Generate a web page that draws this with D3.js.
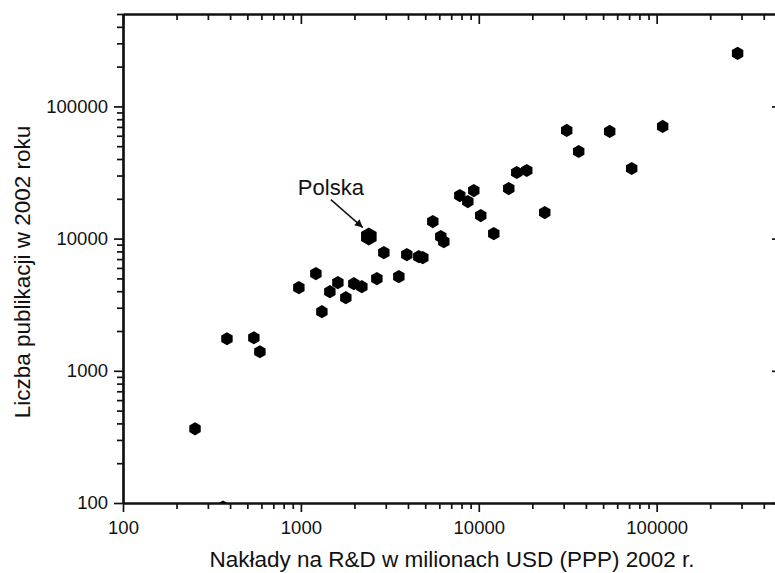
<!DOCTYPE html>
<html><head><meta charset="utf-8">
<script src="https://cdn.jsdelivr.net/npm/d3@7"></script>
<style>
html,body{margin:0;padding:0;background:#fff;}
svg{display:block;font-family:"Liberation Sans",Arial,Helvetica,sans-serif;}
</style>
</head><body>
<svg id="chart" width="775" height="573"></svg>
<script>
// R&D spending (million USD PPP, 2002) and publications in 2002
const spending = [254, 384, 544, 588, 974, 1214, 1312, 1455, 1614, 1789, 1985, 2201, 2410, 2673, 2926, 3553, 3940, 4602, 4845, 5515, 6116, 6359, 7823, 8675, 9374, 10261, 12144, 14743, 16352, 18610, 23488, 31220, 36450, 54450, 72380, 108070, 285100, 365];
const publications = [364, 1747, 1778, 1393, 4255, 5430, 2799, 3967, 4642, 3573, 4560, 4328, 10353, 4977, 7834, 5155, 7565, 7305, 7180, 13455, 10353, 9491, 21174, 19070, 23101, 14939, 10911, 23921, 31623, 32735, 15740, 65790, 45600, 64660, 33910, 70550, 252000, 93];
const highlighted = [false,false,false,false,false,false,false,false,false,false,false,false,true,false,false,false,false,false,false,false,false,false,false,false,false,false,false,false,false,false,false,false,false,false,false,false,false,false];
const highlightLabel = "Polska";
const xTickValues = [100, 1000, 10000, 100000];
const yTickValues = [100, 1000, 10000, 100000];
const xTitle = "Nakłady na R&D w milionach USD (PPP) 2002 r.";
const yTitle = "Liczba publikacji w 2002 roku";

const svg = d3.select("#chart");
const L = 123, R = 781, T = 14, B = 503;
const x = d3.scaleLog().domain([100, 500000]).range([L, R]);
const y = d3.scaleLog().domain([100, 500000]).range([B, T]);
const ink = "#111";

function minorTicks(dom) {
  const out = [];
  for (let d = 100; d <= dom[1]; d *= 10) {
    for (let k = 2; k <= 9; k++) { const v = d * k; if (v <= dom[1]) out.push(v); }
  }
  return out;
}
const xMinor = minorTicks(x.domain());
const yMinor = minorTicks(y.domain());
const fmt = d => String(d);

svg.append("defs").append("clipPath").attr("id","plotclip")
  .append("rect").attr("x", L).attr("y", T).attr("width", R - L).attr("height", B - T);

function styleAxis(g) {
  g.selectAll("path.domain").attr("stroke", ink).attr("stroke-width", 2.2);
  g.selectAll(".tick line").attr("stroke", ink).attr("stroke-width", 1.7);
  g.selectAll(".tick text").attr("fill", ink).attr("font-size", 18.5)
    .attr("font-family", "'Liberation Sans',Arial,sans-serif");
}
// bottom
svg.append("g").attr("transform", `translate(0,${B})`)
  .call(d3.axisBottom(x).tickValues(xTickValues).tickFormat(fmt).tickSize(9).tickSizeOuter(0).tickPadding(9)).call(styleAxis);
svg.append("g").attr("transform", `translate(0,${B})`)
  .call(d3.axisBottom(x).tickValues(xMinor).tickFormat("").tickSize(6).tickSizeOuter(0)).call(styleAxis);
// top (inward)
svg.append("g").attr("transform", `translate(0,${T})`)
  .call(d3.axisBottom(x).tickValues(xTickValues).tickFormat("").tickSize(10).tickSizeOuter(0)).call(styleAxis);
svg.append("g").attr("transform", `translate(0,${T})`)
  .call(d3.axisBottom(x).tickValues(xMinor).tickFormat("").tickSize(6).tickSizeOuter(0)).call(styleAxis);
// left
svg.append("g").attr("transform", `translate(${L},0)`)
  .call(d3.axisLeft(y).tickValues(yTickValues).tickFormat(fmt).tickSize(9).tickSizeOuter(0).tickPadding(6)).call(styleAxis);
svg.append("g").attr("transform", `translate(${L},0)`)
  .call(d3.axisLeft(y).tickValues(yMinor).tickFormat("").tickSize(6).tickSizeOuter(0)).call(styleAxis);
// right (inward)
svg.append("g").attr("transform", `translate(${R},0)`)
  .call(d3.axisLeft(y).tickValues(yTickValues).tickFormat("").tickSize(9).tickSizeOuter(0)).call(styleAxis);
svg.append("g").attr("transform", `translate(${R},0)`)
  .call(d3.axisLeft(y).tickValues(yMinor).tickFormat("").tickSize(6).tickSizeOuter(0)).call(styleAxis);

// Hexagon symbol (pointy top)
const hexagon = {
  draw(ctx, size) {
    const r = Math.sqrt(size * 2 / (3 * Math.sqrt(3)));
    for (let i = 0; i < 6; i++) {
      const a = -Math.PI / 2 + i * Math.PI / 3;
      const px = r * Math.cos(a), py = r * Math.sin(a);
      if (i === 0) ctx.moveTo(px, py); else ctx.lineTo(px, py);
    }
    ctx.closePath();
  }
};
const area = r => 3 * Math.sqrt(3) / 2 * r * r;
const data = spending.map((v, i) => ({x: v, y: publications[i], h: highlighted[i]}));

svg.append("g").attr("clip-path", "url(#plotclip)")
  .selectAll("path.pt").data(data).join("path")
  .attr("class", "pt")
  .attr("transform", d => `translate(${x(d.x)},${y(d.y)})`)
  .attr("d", d => d3.symbol().type(hexagon).size(area(d.h ? 9 : 6.6))())
  .attr("fill", "#000");

// Annotation
const pol = data.find(d => d.h);
const px = x(pol.x), py = y(pol.y);
svg.append("defs").append("marker").attr("id", "arr")
  .attr("viewBox", "0 0 10 10").attr("refX", 10).attr("refY", 5)
  .attr("markerWidth", 12).attr("markerHeight", 8).attr("markerUnits", "userSpaceOnUse")
  .attr("orient", "auto")
  .append("path").attr("d", "M0,0 L10,5 L0,10 Z").attr("fill", ink);
svg.append("line")
  .attr("x1", px - 38).attr("y1", py - 37)
  .attr("x2", px - 6).attr("y2", py - 9)
  .attr("stroke", ink).attr("stroke-width", 1.4)
  .attr("marker-end", "url(#arr)");
svg.append("text").attr("x", px - 71).attr("y", py - 42)
  .attr("font-size", 22).attr("fill", ink).text(highlightLabel);

// Titles
svg.append("text").attr("x", (L + R) / 2).attr("y", 567).attr("text-anchor", "middle")
  .attr("font-size", 22.5).attr("fill", ink).text(xTitle);
svg.append("text").attr("transform", `translate(30,${272}) rotate(-90)`)
  .attr("text-anchor", "middle").attr("font-size", 22.5).attr("fill", ink).text(yTitle);
</script>
</body></html>
